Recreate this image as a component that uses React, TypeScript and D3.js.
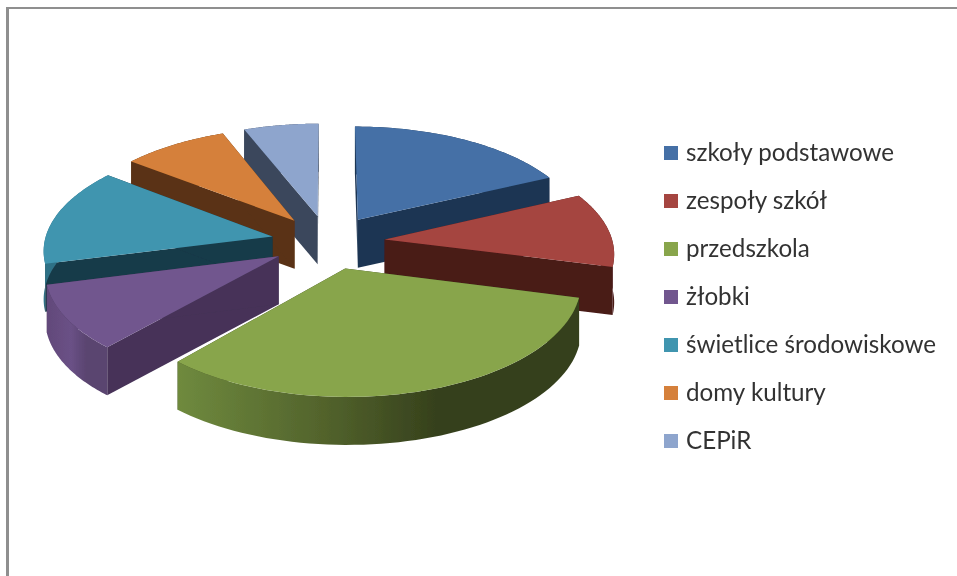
import React from "react";
import * as d3 from "d3";

// Udział placówek (%)
const categories = [
  "szkoły podstawowe",
  "zespoły szkół",
  "przedszkola",
  "żłobki",
  "świetlice środowiskowe",
  "domy kultury",
  "CEPiR",
];
const values = [18, 11, 32.5, 9.5, 14.5, 8.5, 6];

const topColors = ["#4470a6", "#a5443f", "#88a54c", "#71578e", "#4095af", "#d5803a", "#8ea5cd"];
const faceColors = ["#1d3553", "#481a18", "#35401c", "#463358", "#193a48", "#5a3215", "#3a475c"];
const wallStart = ["#1d3553", "#481a18", "#6f8a3e", "#62497a", "#2f7186", "#5a3215", "#3a475c"];
const wallMid = ["#1d3553", "#481a18", "#4f5f2a", "#6a5186", "#2f7186", "#5a3215", "#3a475c"];
const wallEnd = ["#1d3553", "#481a18", "#35401c", "#5a4470", "#2f7186", "#5a3215", "#3a475c"];

// kolejność rysowania: od tyłu do przodu
const drawOrder = [0, 6, 5, 1, 4, 3, 2];

const width = 957;
const height = 576;
const cx = 328;
const cy = 242;
const rx = 228;
const ry = 108;
const persp = 0.11;
const explode = 0.25;
const depth = 48;

// rzut punktu z dysku na ekran (perspektywa)
const project = (X: number, Y: number, dz = 0): [number, number] => {
  const w = 1 / (1 - persp * Y);
  return [cx + X * rx * w, cy + Y * ry * w + dz];
};

const pie = d3.pie<number>().sort(null).startAngle(0).endAngle(2 * Math.PI);
const line = d3.line();

const legendY = d3
  .scalePoint<string>()
  .domain(categories)
  .range([153, 441]);

const App = () => {
  const arcs = pie(values);

  const slices = arcs.map((a) => {
    const mid = (a.startAngle + a.endAngle) / 2;
    const ox = explode * Math.sin(mid);
    const oy = -explode * Math.cos(mid);
    const angles = d3.range(0, 61).map((i) => a.startAngle + ((a.endAngle - a.startAngle) * i) / 60);
    const rim = (dz: number) =>
      angles.map((t) => project(ox + Math.sin(t), oy - Math.cos(t), dz));
    const apex = (dz: number) => project(ox, oy, dz);
    const top = rim(0);
    const bottom = rim(depth);
    return {
      top: line([apex(0), ...top])! + "Z",
      wall: line([...top, ...bottom.slice().reverse()])! + "Z",
      faceStart: line([apex(0), top[0], bottom[0], apex(depth)])! + "Z",
      faceEnd: line([apex(0), top[60], bottom[60], apex(depth)])! + "Z",
    };
  });

  return (
    <svg
      width={width}
      height={height}
      style={{ position: "absolute", left: 0, top: 0, display: "block", background: "#fff" }}
    >
      <defs>
        {categories.map((_, i) => (
          <linearGradient key={i} id={`wall-${i}`} x1="0" x2="1" y1="0" y2="0">
            <stop offset="0" stopColor={wallStart[i]} />
            <stop offset="0.4" stopColor={wallMid[i]} />
            <stop offset="0.65" stopColor={wallEnd[i]} />
            <stop offset="1" stopColor={wallEnd[i]} />
          </linearGradient>
        ))}
        <filter id="soft" x="-5%" y="-5%" width="110%" height="110%">
          <feGaussianBlur stdDeviation="0.6" />
        </filter>
      </defs>

      <g filter="url(#soft)">
        {/* ramka */}
        <line x1={7.5} x2={7.5} y1={8} y2={height} stroke="#8f8f8f" strokeWidth={3} />
        <line x1={6} x2={width} y1={8} y2={8} stroke="#8f8f8f" strokeWidth={2} />

        {drawOrder.map((i) => (
          <g key={i}>
            <path d={slices[i].faceStart} fill={faceColors[i]} />
            <path d={slices[i].faceEnd} fill={faceColors[i]} />
            <path d={slices[i].wall} fill={`url(#wall-${i})`} />
            <path d={slices[i].top} fill={topColors[i]} />
          </g>
        ))}

        {/* legenda */}
        {categories.map((c, i) => (
          <g key={c} transform={`translate(664, ${legendY(c)})`}>
            <rect x={0} y={-7} width={14} height={14} fill={topColors[i]} />
            <text
              x={22}
              y={8}
              fontFamily="Lato, sans-serif"
              fontSize={24.2}
              fill="#333"
            >
              {c}
            </text>
          </g>
        ))}
      </g>
    </svg>
  );
};

export default App;
